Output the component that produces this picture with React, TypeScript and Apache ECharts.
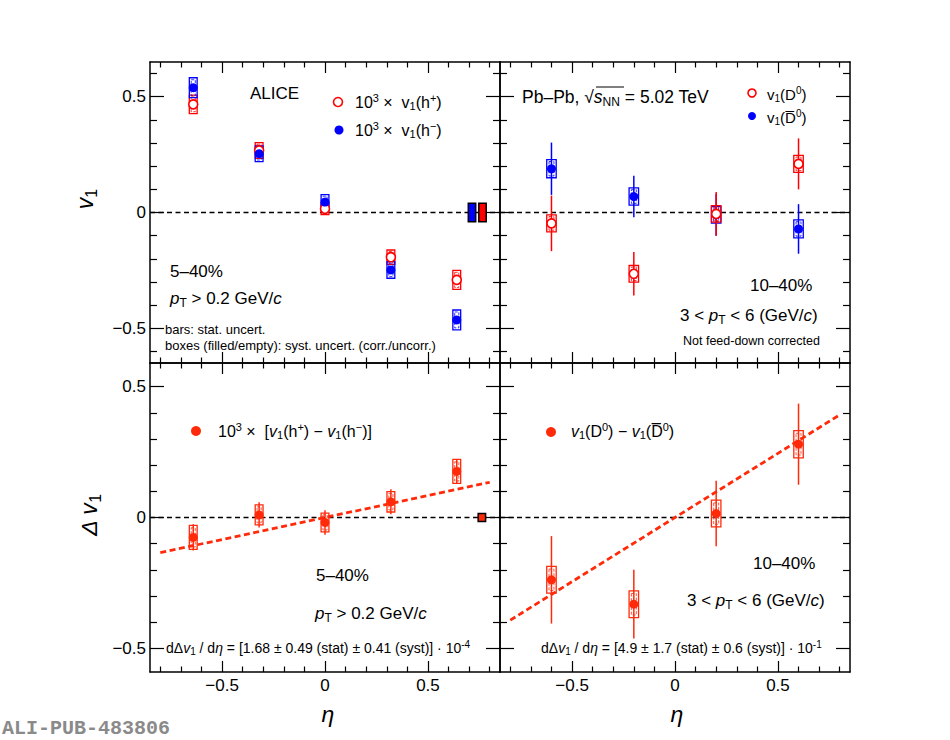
import React, { useEffect, useRef } from 'react';
import * as echarts from 'echarts';

const FONT = '"Liberation Sans", Arial, Helvetica, sans-serif';
const RED = '#ff0000';
const BLUE = '#0000ff';
const ORANGE = '#ff2a0a';

// axis ticks
const etaTicks = [-0.5, 0, 0.5];
const etaMinorTicks = [-0.8, -0.7, -0.6, -0.4, -0.3, -0.2, -0.1, 0.1, 0.2, 0.3, 0.4, 0.6, 0.7, 0.8];
const v1Ticks = [-0.5, 0, 0.5];
const v1MinorTicks = [-0.6, -0.4, -0.3, -0.2, -0.1, 0.1, 0.2, 0.3, 0.4, 0.6];
const dv1MinorTicks = [-0.4, -0.3, -0.2, -0.1, 0.1, 0.2, 0.3, 0.4];

// charged hadrons, 10^3 x v1
const etaH = [-0.64, -0.32, 0, 0.32, 0.64];
const v1HPos = [0.467, 0.268, 0.016, -0.193, -0.291];
const v1HPosStat = [0.012, 0.01, 0.01, 0.01, 0.012];
const v1HPosSyst = [0.04, 0.034, 0.025, 0.031, 0.041];
const v1HNeg = [0.539, 0.254, 0.045, -0.248, -0.464];
const v1HNegStat = [0.012, 0.01, 0.01, 0.01, 0.012];
const v1HNegSyst = [0.043, 0.034, 0.032, 0.036, 0.043];
const v1HGlobalSyst = [0.04, 0.04]; // h-, h+

// D0 mesons
const etaD = [-0.6, -0.2, 0.2, 0.6];
const v1D0 = [-0.047, -0.265, -0.006, 0.21];
const v1D0Stat = [0.12, 0.094, 0.094, 0.11];
const v1D0Syst = [0.037, 0.036, 0.036, 0.037];
const v1D0bar = [0.189, 0.069, -0.01, -0.071];
const v1D0barStat = [0.113, 0.09, 0.09, 0.107];
const v1D0barSyst = [0.039, 0.037, 0.036, 0.039];

// differences
const dv1H = [-0.076, 0.01, -0.019, 0.06, 0.176];
const dv1HStat = [0.05, 0.048, 0.047, 0.048, 0.045];
const dv1HSyst = [0.046, 0.038, 0.036, 0.039, 0.046];
const dv1HGlobalSyst = 0.015;
const dv1D = [-0.238, -0.331, 0.015, 0.28];
const dv1DStat = [0.167, 0.131, 0.125, 0.155];
const dv1DSyst = [0.051, 0.051, 0.051, 0.052];

// fitted slopes (scaled as drawn)
const slopeH = 0.168;
const slopeD = 0.49;
const fitRange = [-0.8, 0.8];

const fmt = (v: number) => (v === 0 ? '0' : v < 0 ? '\u2212' + Math.abs(v) : String(v));

function richFor(size: number) {
  const s = Math.round(size * 0.68);
  return {
    i: { fontFamily: FONT, fontSize: size, fontStyle: 'italic', fill: '#000' },
    sup: { fontFamily: FONT, fontSize: s, fill: '#000', padding: [0, 0, Math.round(size * 0.55), 0] },
    sub: { fontFamily: FONT, fontSize: s, fill: '#000', padding: [Math.round(size * 0.5), 0, 0, 0] },
  };
}

function label(x: number, y: number, text: string, size: number, extra: any = {}) {
  return {
    type: 'text',
    x,
    y,
    silent: true,
    z: 100,
    ...extra,
    style: {
      text,
      fontFamily: FONT,
      fontSize: size,
      fill: '#000',
      align: extra.align || 'left',
      verticalAlign: 'middle',
      rich: richFor(size),
    },
  };
}

const tickStyle = { color: '#000', width: 1.2 };
const frameLine = { show: true, onZero: false, lineStyle: { color: '#000', width: 1.5 } };

function xAxes(grid: number, showLabels: boolean) {
  const base = { type: 'value', gridIndex: grid, min: -0.85, max: 0.85, splitLine: { show: false } };
  const major = { inside: true, length: 11, customValues: etaTicks, lineStyle: tickStyle };
  const minor = { inside: true, length: 5.5, customValues: etaMinorTicks, lineStyle: tickStyle };
  return [
    {
      ...base, position: 'bottom', axisLine: frameLine, axisTick: major,
      axisLabel: { show: showLabels, customValues: etaTicks, formatter: fmt, fontFamily: FONT, fontSize: 17, color: '#000', margin: 5 },
    },
    { ...base, position: 'bottom', axisLine: { show: false, onZero: false }, axisTick: minor, axisLabel: { show: false } },
    { ...base, position: 'top', axisLine: frameLine, axisTick: major, axisLabel: { show: false } },
    { ...base, position: 'top', axisLine: { show: false, onZero: false }, axisTick: minor, axisLabel: { show: false } },
  ];
}

function yAxes(grid: number, lim: number, minorTicks: number[], showLabels: boolean) {
  const base = { type: 'value', gridIndex: grid, min: -lim, max: lim, splitLine: { show: false } };
  const major = { inside: true, length: 14, customValues: v1Ticks, lineStyle: tickStyle };
  const minor = { inside: true, length: 7, customValues: minorTicks, lineStyle: tickStyle };
  return [
    {
      ...base, position: 'left', axisLine: frameLine, axisTick: major,
      axisLabel: { show: showLabels, customValues: v1Ticks, formatter: fmt, fontFamily: FONT, fontSize: 17, color: '#000', margin: 4 },
    },
    { ...base, position: 'left', axisLine: { show: false, onZero: false }, axisTick: minor, axisLabel: { show: false } },
    { ...base, position: 'right', axisLine: frameLine, axisTick: major, axisLabel: { show: false } },
    { ...base, position: 'right', axisLine: { show: false, onZero: false }, axisTick: minor, axisLabel: { show: false } },
  ];
}

function zeroLine(g: number) {
  return {
    type: 'line', xAxisIndex: 4 * g, yAxisIndex: 4 * g, silent: true, symbol: 'none', z: 1,
    data: [[-0.85, 0], [0.85, 0]],
    lineStyle: { color: '#000', width: 1.4, type: [5, 3.5] },
  };
}

function fitLine(g: number, slope: number) {
  return {
    type: 'line', xAxisIndex: 4 * g, yAxisIndex: 4 * g, silent: true, symbol: 'none', z: 2,
    data: fitRange.map((e) => [e, slope * e]),
    lineStyle: { color: ORANGE, width: 2.8, type: [6, 3.5] },
  };
}

function boxSeries(g: number, eta: number[], val: number[], stat: number[], syst: number[], color: string, halfW: number, innerW: number) {
  return {
    type: 'custom', xAxisIndex: 4 * g, yAxisIndex: 4 * g, silent: true, z: 3,
    data: eta.map((e, i) => [e, val[i], stat[i], syst[i]]),
    renderItem: (params: any, api: any) => {
      const e = api.value(0);
      const v = api.value(1);
      const s = api.value(2);
      const sy = api.value(3);
      const [x0, yTop] = api.coord([e - halfW, v + sy]);
      const [x1, yBot] = api.coord([e + halfW, v - sy]);
      const [ix0] = api.coord([e - innerW, v]);
      const [ix1] = api.coord([e + innerW, v]);
      const [cx, sTop] = api.coord([e, v + s]);
      const sBot = api.coord([e, v - s])[1];
      const inset = (yBot - yTop) * 0.1;
      return {
        type: 'group',
        children: [
          { type: 'line', shape: { x1: cx, y1: sTop, x2: cx, y2: sBot }, style: { stroke: color, lineWidth: 1.5 } },
          { type: 'rect', shape: { x: x0, y: yTop, width: x1 - x0, height: yBot - yTop }, style: { fill: 'none', stroke: color, lineWidth: 1.3 } },
          { type: 'rect', shape: { x: ix0, y: yTop + inset, width: ix1 - ix0, height: yBot - yTop - 2 * inset }, style: { fill: 'none', stroke: color, lineWidth: 0.8, lineDash: [3, 1.5] } },
        ],
      };
    },
  };
}

function globalBox(g: number, items: number[][], colors: string[], halfW: number) {
  return {
    type: 'custom', xAxisIndex: 4 * g, yAxisIndex: 4 * g, silent: true, z: 4,
    data: items,
    renderItem: (params: any, api: any) => {
      const e = api.value(0);
      const h = api.value(1);
      const [x0, y0] = api.coord([e - halfW, h]);
      const [x1, y1] = api.coord([e + halfW, -h]);
      return {
        type: 'rect', shape: { x: x0, y: y0, width: x1 - x0, height: y1 - y0 },
        style: { fill: colors[params.dataIndex], stroke: '#000', lineWidth: 1.5 },
      };
    },
  };
}

function markers(g: number, eta: number[], val: number[], color: string, open: boolean, size: number) {
  return {
    type: 'scatter', xAxisIndex: 4 * g, yAxisIndex: 4 * g, silent: true, z: 5, symbol: 'circle', symbolSize: size,
    data: eta.map((e, i) => [e, val[i]]),
    itemStyle: open
      ? { color: '#fff', borderColor: color, borderWidth: 1.6, opacity: 1 }
      : { color, opacity: 1 },
  };
}

function dot(cx: number, cy: number, r: number, color: string, open: boolean) {
  return {
    type: 'circle', silent: true, z: 100,
    shape: { cx, cy, r },
    style: open ? { fill: '#fff', stroke: color, lineWidth: 1.6 } : { fill: color },
  };
}

const App: React.FC = () => {
  const chartRef = useRef<HTMLDivElement>(null);

  useEffect(() => {
    const chart = echarts.init(chartRef.current as HTMLDivElement, undefined, { renderer: 'svg' });
    const Dbar = 'D\u0305';
    const option = {
      animation: false,
      backgroundColor: '#fff',
      grid: [
        { left: 150, top: 62, width: 350, height: 301 },
        { left: 500, top: 62, width: 350, height: 301 },
        { left: 150, top: 363, width: 350, height: 309 },
        { left: 500, top: 363, width: 350, height: 309 },
      ],
      xAxis: [...xAxes(0, false), ...xAxes(1, false), ...xAxes(2, true), ...xAxes(3, true)],
      yAxis: [
        ...yAxes(0, 0.65, v1MinorTicks, true),
        ...yAxes(1, 0.65, v1MinorTicks, false),
        ...yAxes(2, 0.59, dv1MinorTicks, true),
        ...yAxes(3, 0.59, dv1MinorTicks, false),
      ],
      series: [
        zeroLine(0), zeroLine(1), zeroLine(2), zeroLine(3),
        // top left
        boxSeries(0, etaH, v1HPos, v1HPosStat, v1HPosSyst, RED, 0.019, 0.01),
        boxSeries(0, etaH, v1HNeg, v1HNegStat, v1HNegSyst, BLUE, 0.019, 0.01),
        globalBox(0, [[0.714, v1HGlobalSyst[0]], [0.765, v1HGlobalSyst[1]]], [BLUE, RED], 0.018),
        markers(0, etaH, v1HPos, RED, true, 9),
        markers(0, etaH, v1HNeg, BLUE, false, 9),
        // top right
        boxSeries(1, etaD, v1D0bar, v1D0barStat, v1D0barSyst, BLUE, 0.023, 0.012),
        boxSeries(1, etaD, v1D0, v1D0Stat, v1D0Syst, RED, 0.023, 0.012),
        markers(1, etaD, v1D0bar, BLUE, false, 9),
        markers(1, etaD, v1D0, RED, true, 9),
        // bottom left
        fitLine(2, slopeH),
        boxSeries(2, etaH, dv1H, dv1HStat, dv1HSyst, ORANGE, 0.019, 0.01),
        globalBox(2, [[0.762, dv1HGlobalSyst]], [ORANGE], 0.018),
        markers(2, etaH, dv1H, ORANGE, false, 9),
        // bottom right
        fitLine(3, slopeD),
        boxSeries(3, etaD, dv1D, dv1DStat, dv1DSyst, ORANGE, 0.023, 0.012),
        markers(3, etaD, dv1D, ORANGE, false, 9),
      ],
      graphic: [
        // axis titles
        label(85, 199, '{i|v}{sub|1}', 23, { rotation: Math.PI / 2, align: 'center' }),
        label(89, 515, '{i|\u0394 v}{sub|1}', 23, { rotation: Math.PI / 2, align: 'center' }),
        label(328, 714, '{i|\u03b7}', 23, { align: 'center' }),
        label(677, 714, '{i|\u03b7}', 23, { align: 'center' }),
        // top left
        label(250, 93, 'ALICE', 17),
        dot(338, 102, 4.5, RED, true),
        label(355, 102, '10{sup|3} \u00d7  v{sub|1}(h{sup|+})', 16),
        dot(339, 130, 4.5, BLUE, false),
        label(355, 130, '10{sup|3} \u00d7  v{sub|1}(h{sup|\u2212})', 16),
        label(170, 271, '5\u201340%', 17),
        label(170, 298, '{i|p}{sub|T} > 0.2 GeV/{i|c}', 17),
        label(165, 329, 'bars: stat. uncert.', 13),
        label(165, 345, 'boxes (filled/empty): syst. uncert. (corr./uncorr.)', 13),
        // top right
        label(522, 97, 'Pb\u2013Pb, \u221a{i|s}{sub|NN} = 5.02 TeV', 17.5),
        { type: 'line', silent: true, z: 100, shape: { x1: 596, y1: 87, x2: 624, y2: 87 }, style: { stroke: '#000', lineWidth: 1 } },
        dot(752, 93, 4, RED, true),
        label(767, 94, 'v{sub|1}(D{sup|0})', 15),
        dot(752, 116, 4, BLUE, false),
        label(767, 117, 'v{sub|1}(' + Dbar + '{sup|0})', 15),
        label(750, 285, '10\u201340%', 17),
        label(680, 315, '3 < {i|p}{sub|T} < 6 (GeV/{i|c})', 17),
        label(683, 341, 'Not feed-down corrected', 12.5),
        // bottom left
        dot(196, 431, 5, ORANGE, false),
        label(218, 431, '10{sup|3} \u00d7  [{i|v}{sub|1}(h{sup|+}) \u2212 {i|v}{sub|1}(h{sup|\u2212})]', 16),
        label(316, 575, '5\u201340%', 17),
        label(315, 613, '{i|p}{sub|T} > 0.2 GeV/{i|c}', 17),
        label(166, 648, 'd\u0394{i|v}{sub|1} / d{i|\u03b7} = [1.68 \u00b1 0.49 (stat) \u00b1 0.41 (syst)] \u00b7 10{sup|-4}', 14),
        // bottom right
        dot(551, 432, 5, ORANGE, false),
        label(571, 431, '{i|v}{sub|1}(D{sup|0}) \u2212 {i|v}{sub|1}(' + Dbar + '{sup|0})', 16),
        label(753, 563, '10\u201340%', 17),
        label(687, 600, '3 < {i|p}{sub|T} < 6 (GeV/{i|c})', 17),
        label(541, 648, 'd\u0394{i|v}{sub|1} / d{i|\u03b7} = [4.9 \u00b1 1.7 (stat) \u00b1 0.6 (syst)] \u00b7 10{sup|-1}', 14),
        // figure id
        {
          type: 'text', x: 2, y: 728, silent: true, z: 100,
          style: { text: 'ALI-PUB-483806', fontFamily: '"Liberation Mono", monospace', fontWeight: 'bold', fontSize: 20, fill: '#8a8a8a', align: 'left', verticalAlign: 'middle' },
        },
      ],
    };

    chart.setOption(option as any);

    return () => {
      chart.dispose();
    };
  }, []);

  return (
    <div
      ref={chartRef}
      style={{ position: 'fixed', left: 0, top: 0, width: '950px', height: '740px', background: '#fff' }}
    ></div>
  );
};

export default App;
